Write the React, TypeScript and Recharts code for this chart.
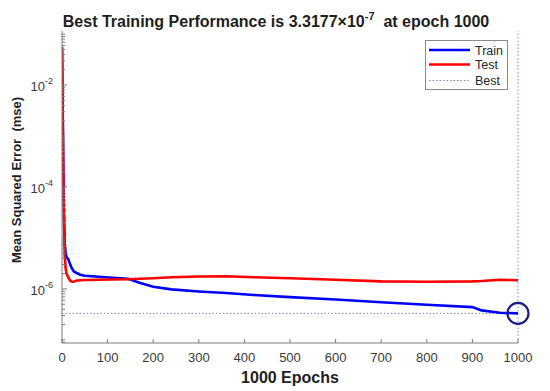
import React from 'react';
import { LineChart, Line, XAxis, YAxis, ReferenceLine, ReferenceDot } from 'recharts';

const epochs = [0, 1, 2, 3, 4, 5, 6, 8, 10, 14, 18, 22, 26, 30, 40, 50, 80, 110, 145, 170, 200, 240, 300, 360, 420, 500, 600, 700, 800, 900, 920, 960, 1000];
const trainMse = [5.6e-2, 1.0e-2, 1.3e-3, 2.0e-4, 5.0e-5, 1.6e-5, 8.0e-6, 5.0e-6, 4.2e-6, 3.8e-6, 3.0e-6, 2.5e-6, 2.2e-6, 2.1e-6, 1.9e-6, 1.82e-6, 1.74e-6, 1.66e-6, 1.58e-6, 1.32e-6, 1.1e-6, 9.8e-7, 8.9e-7, 8.3e-7, 7.6e-7, 6.9e-7, 6.2e-7, 5.5e-7, 4.9e-7, 4.4e-7, 3.8e-7, 3.4e-7, 3.3177e-7];
const testMse = [5.0e-2, 8.0e-3, 1.0e-3, 1.6e-4, 3.2e-5, 1.0e-5, 4.5e-6, 2.5e-6, 2.0e-6, 1.66e-6, 1.45e-6, 1.38e-6, 1.38e-6, 1.45e-6, 1.48e-6, 1.5e-6, 1.51e-6, 1.53e-6, 1.55e-6, 1.58e-6, 1.62e-6, 1.7e-6, 1.76e-6, 1.78e-6, 1.7e-6, 1.62e-6, 1.51e-6, 1.41e-6, 1.38e-6, 1.41e-6, 1.43e-6, 1.51e-6, 1.48e-6];
const bestMse = 3.3177e-7;
const bestEpoch = 1000;
const xTicks = [0, 100, 200, 300, 400, 500, 600, 700, 800, 900, 1000];
const yMajorTicks = [1e-6, 1e-4, 1e-2];
const yDecades = [1e-8, 1e-7, 1e-6, 1e-5, 1e-4, 1e-3, 1e-2, 1e-1];
const yMinorSteps = [1, 2, 3, 4, 5, 6, 7, 8, 9];
const yDomain = [8.7e-8, 0.115];
const seriesNames = ['Train', 'Test', 'Best'];

const data = epochs.map((e, i) => ({ epoch: e, train: trainMse[i], test: testMse[i] }));
const yAllTicks: number[] = [];
yDecades.forEach((d) => yMinorSteps.forEach((m) => {
  const v = d * m;
  if (v >= yDomain[0] && v <= yDomain[1]) yAllTicks.push(v);
}));

const FONT = '"Liberation Sans", Arial, Helvetica, sans-serif';
const AXIS = '#7a7a7a';
const TICKTXT = '#3a3a3a';
const BEST = '#7f86c6';

const isMajor = (v: number) => yMajorTicks.some((m) => Math.abs(m - v) / m < 1e-6);

const YTick = (props: any) => {
  const { x, y, payload } = props;
  const v = payload.value;
  const major = isMajor(v);
  const exp = Math.round(Math.log10(v));
  return (
    <g>
      <line x1={x} x2={x + (major ? 5 : 3)} y1={y} y2={y} stroke={AXIS} strokeWidth={1} />
      {major && (
        <text x={x - 9} y={y + 6} textAnchor="end" fontFamily={FONT} fontSize={13} fill={TICKTXT}>
          10<tspan dy={-7} fontSize={9}>{'-' + Math.abs(exp)}</tspan>
        </text>
      )}
    </g>
  );
};

const XTick = (props: any) => {
  const { x, y, payload } = props;
  return (
    <g>
      <line x1={x} x2={x} y1={y} y2={y - 4} stroke={AXIS} strokeWidth={1} />
      <text x={x} y={y + 19} textAnchor="middle" fontFamily={FONT} fontSize={13} fill={TICKTXT}>
        {payload.value}
      </text>
    </g>
  );
};

export default function App() {
  return (
    <div style={{ position: 'absolute', left: 0, top: 0, width: 550, height: 391, background: '#fff' }}>
      <LineChart width={550} height={391} data={data} margin={{ top: 31, right: 32, left: 0, bottom: 0 }}>
        <XAxis
          dataKey="epoch"
          type="number"
          domain={[0, 1000]}
          ticks={xTicks}
          interval={0}
          height={48}
          tickSize={0}
          tickMargin={0}
          tickLine={false}
          axisLine={{ stroke: AXIS, strokeWidth: 1 }}
          tick={<XTick />}
          allowDataOverflow
        />
        <YAxis
          type="number"
          scale="log"
          domain={yDomain}
          ticks={yAllTicks}
          interval={0}
          width={62}
          tickSize={0}
          tickMargin={0}
          tickLine={false}
          axisLine={{ stroke: AXIS, strokeWidth: 1 }}
          tick={<YTick />}
          allowDataOverflow
        />
        <ReferenceLine y={bestMse} stroke={BEST} strokeWidth={1} strokeDasharray="1.5 2" />
        <ReferenceLine x={bestEpoch} stroke={BEST} strokeWidth={1} strokeDasharray="1.5 2" />
        <Line type="linear" dataKey="train" stroke="#0000ff" strokeWidth={2.6} dot={false} isAnimationActive={false} />
        <Line type="linear" dataKey="test" stroke="#ff0000" strokeWidth={2.6} dot={false} isAnimationActive={false} />
        <ReferenceDot x={bestEpoch} y={bestMse} r={10.5} fill="none" stroke="#1c1c86" strokeWidth={2.2} />
      </LineChart>
      <svg width={550} height={391} style={{ position: 'absolute', left: 0, top: 0, pointerEvents: 'none' }}>
        <text x={276} y={27} textAnchor="middle" fontFamily={FONT} fontSize={16} fontWeight="bold" fill="#1e1e1e">
          Best Training Performance is 3.3177×10<tspan dy={-7} fontSize={11}>-7</tspan>
          <tspan dy={7}>{'\u00a0\u00a0at epoch 1000'}</tspan>
        </text>
        <text x={290} y={383} textAnchor="middle" fontFamily={FONT} fontSize={16} fontWeight="bold" fill="#1e1e1e">
          1000 Epochs
        </text>
        <text x={21} y={180} textAnchor="middle" transform="rotate(-90, 21, 180)" fontFamily={FONT} fontSize={13} fontWeight="bold" fill="#1e1e1e">
          {'Mean Squared Error\u00a0\u00a0(mse)'}
        </text>
        <g>
          <rect x={425.5} y={40.5} width={82} height={49} fill="#fff" stroke="#8a8a8a" strokeWidth={1} />
          <line x1={429} x2={470} y1={50} y2={50} stroke="#0000ff" strokeWidth={2.6} />
          <line x1={429} x2={470} y1={64.5} y2={64.5} stroke="#ff0000" strokeWidth={2.6} />
          <line x1={429} x2={470} y1={80.5} y2={80.5} stroke={BEST} strokeWidth={1} strokeDasharray="1.5 2" />
          <text x={475} y={54.5} fontFamily={FONT} fontSize={12.5} fill="#262626">{seriesNames[0]}</text>
          <text x={475} y={69} fontFamily={FONT} fontSize={12.5} fill="#262626">{seriesNames[1]}</text>
          <text x={475} y={85} fontFamily={FONT} fontSize={12.5} fill="#262626">{seriesNames[2]}</text>
        </g>
      </svg>
    </div>
  );
}
